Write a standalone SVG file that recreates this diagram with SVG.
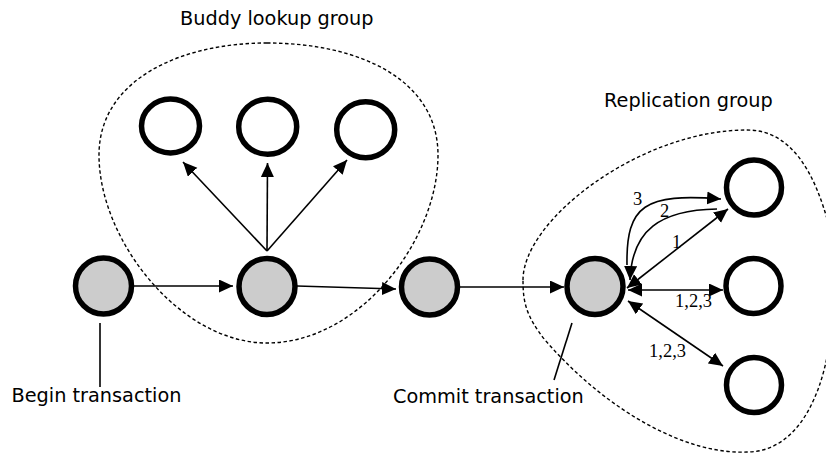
<svg xmlns="http://www.w3.org/2000/svg" width="826" height="453" viewBox="0 0 826 453">
<defs>
<marker id="ah" markerUnits="userSpaceOnUse" markerWidth="15" markerHeight="14" refX="14" refY="6.5" orient="auto-start-reverse">
<path d="M0,0 L14,6.5 L0,13 z" fill="#000"/>
</marker>
<style>
.gray{fill:#cccccc;stroke:#000;stroke-width:5.5}
.white{fill:#fff;stroke:#000;stroke-width:5.5}
.blob{fill:none;stroke:#000;stroke-width:1.4;stroke-dasharray:3.5 2.5}
.c{fill:none;stroke:#000;stroke-width:1.6}
.a{marker-end:url(#ah)}
.d{marker-start:url(#ah);marker-end:url(#ah)}
.lbl{font-family:"DejaVu Sans",sans-serif;font-size:19.3px;fill:#000}
.num{font-family:"Liberation Serif",serif;font-size:18.5px;fill:#000}
</style>
</defs>
<rect width="826" height="453" fill="#fff"/>
<g id="groups">
<path class="blob" d="M267 43 C360 43,438 80,438 155 C438 240,360 343,267 343 C180 343,99 240,99 155 C99 80,180 43,267 43 Z"/>
<path class="blob" d="M523 280 C523 220,640 130,747 130 C790 130,815 170,830 230 L830 340 C820 410,790 452,747 452 C690 455,610 415,545 340 C525 315,523 300,523 280 Z"/>
<text class="lbl" x="180" y="25">Buddy lookup group</text>
<text class="lbl" x="604" y="107">Replication group</text>
</g>
<g id="connectors">
<line class="c a" x1="134" y1="286" x2="233" y2="286"/>
<line class="c a" x1="297" y1="286" x2="396" y2="289"/>
<line class="c a" x1="460" y1="287" x2="564" y2="287"/>
<line class="c a" x1="267" y1="251" x2="183" y2="162"/>
<line class="c a" x1="267" y1="251" x2="267.5" y2="163"/>
<line class="c a" x1="267" y1="251" x2="347" y2="160"/>
<line class="c" x1="100" y1="323" x2="100" y2="387"/>
<line class="c" x1="572" y1="323" x2="554" y2="380"/>
<path class="c a" d="M627 265 C626 205,645 193,721 199"/>
<path class="c a" d="M717 209 C660 210,632 230,630 280"/>
<line class="c d" x1="627" y1="288" x2="728" y2="209"/>
<line class="c d" x1="628" y1="290" x2="723" y2="290"/>
<line class="c d" x1="628" y1="301" x2="723" y2="366"/>
<text class="num" x="633" y="205">3</text>
<text class="num" x="660" y="217">2</text>
<text class="num" x="672" y="248">1</text>
<text class="num" x="675" y="307">1,2,3</text>
<text class="num" x="649" y="357">1,2,3</text>
</g>
<g id="node-begin"><circle class="gray" cx="103.5" cy="286" r="28"/><text class="lbl" x="11.5" y="401.7">Begin transaction</text></g>
<g id="node-buddy"><circle class="gray" cx="267" cy="286.5" r="28"/></g>
<g id="node-mid"><circle class="gray" cx="429.5" cy="287" r="28"/></g>
<g id="node-commit"><circle class="gray" cx="595" cy="286.5" r="28"/><text class="lbl" x="393" y="403">Commit transaction</text></g>
<g id="buddy1"><ellipse class="white" cx="170.5" cy="126" rx="29" ry="27"/></g>
<g id="buddy2"><ellipse class="white" cx="267.7" cy="126.7" rx="29" ry="27.5"/></g>
<g id="buddy3"><ellipse class="white" cx="365.7" cy="129.7" rx="29" ry="28"/></g>
<g id="rep1"><circle class="white" cx="754" cy="187.5" r="27.5"/></g>
<g id="rep2"><circle class="white" cx="753.5" cy="286" r="27.5"/></g>
<g id="rep3"><circle class="white" cx="754" cy="385" r="27.5"/></g>
</svg>
